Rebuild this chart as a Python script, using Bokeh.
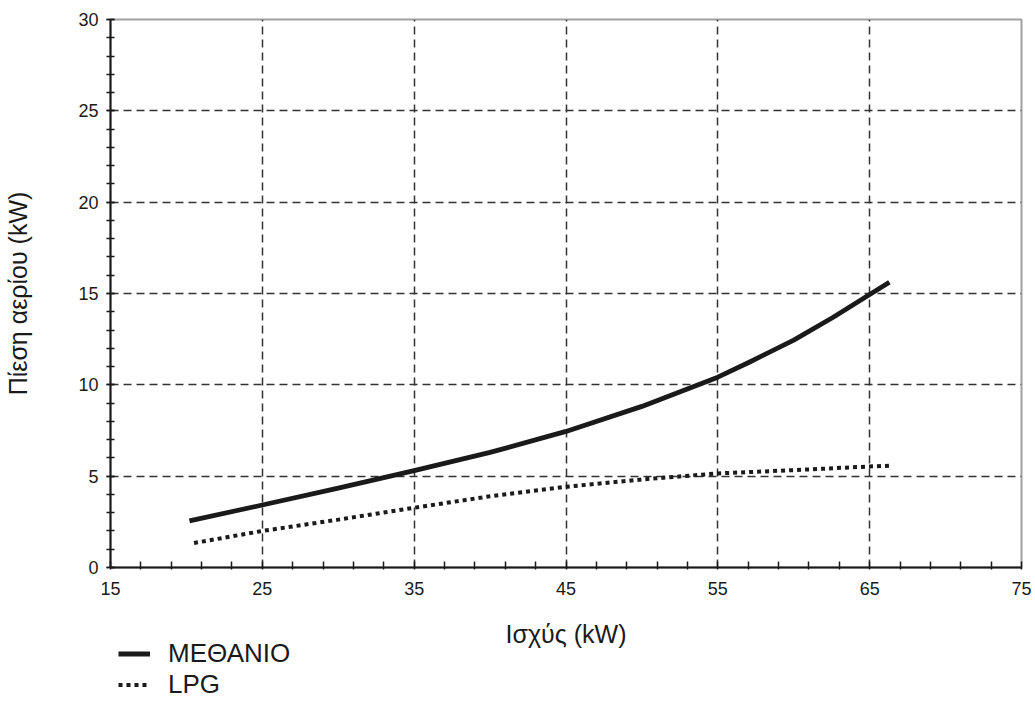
from bokeh.plotting import figure
from bokeh.models import FixedTicker, Range1d, Legend, LegendItem, Label
from bokeh.layouts import column
from bokeh.embed import file_html
from bokeh.resources import INLINE

# Data
x_methane = [20.2, 25, 30, 35, 40, 45, 50, 55, 57.1, 60, 62.6, 65, 66.3]
y_methane = [2.55, 3.42, 4.35, 5.3, 6.3, 7.45, 8.82, 10.42, 11.25, 12.45, 13.7, 14.95, 15.62]
x_lpg = [20.5, 25, 30, 35, 40, 45, 50, 55, 60, 65, 66.3]
y_lpg = [1.34, 2.0, 2.62, 3.27, 3.9, 4.42, 4.82, 5.15, 5.33, 5.53, 5.57]

x_major = [15, 25, 35, 45, 55, 65, 75]
x_minor = [17, 19, 21, 23, 27, 29, 31, 33, 37, 39, 41, 43, 47, 49, 51, 53, 57, 59, 61, 63, 67, 69, 71, 73]
y_major = [0, 5, 10, 15, 20, 25, 30]
y_minor = [i for i in range(0, 31)]
x_grid = [25, 35, 45, 55, 65]
y_grid = [5, 10, 15, 20, 25]

series_names = ["ΜΕΘΑΝΙΟ", "LPG"]
x_label = "Ισχύς (kW)"
y_label = "Πίεση αερίου (kW)"

FONT = "Liberation Sans"
INK = "#1a1a1a"
W = 1033
H_MAIN = 607
H_LEG = 93

p = figure(width=W, height=H_MAIN, output_backend="svg", toolbar_location=None,
           x_range=Range1d(15, 75), y_range=Range1d(0, 30),
           min_border_left=110, min_border_right=12, min_border_top=19, min_border_bottom=40)

p.outline_line_color = "#a0a0a0"
p.outline_line_width = 2

# axes
p.xaxis.ticker = FixedTicker(ticks=x_major, minor_ticks=x_minor)
p.yaxis.ticker = FixedTicker(ticks=y_major, minor_ticks=y_minor)
for ax in (p.xaxis[0], p.yaxis[0]):
    ax.axis_line_color = INK
    ax.axis_line_width = 2
    ax.major_tick_line_color = INK
    ax.minor_tick_line_color = INK
    ax.major_tick_line_width = 1.5
    ax.minor_tick_line_width = 1.5
    ax.major_label_text_font = FONT
    ax.major_label_text_font_size = "18px"
    ax.major_label_text_color = INK
    ax.axis_label_text_font = FONT
    ax.axis_label_text_font_size = "25px"
    ax.axis_label_text_font_style = "normal"
    ax.axis_label_text_color = INK

p.xaxis.major_tick_in = 6
p.xaxis.major_tick_out = 2
p.xaxis.minor_tick_in = 6
p.xaxis.minor_tick_out = 2
p.xaxis.major_label_standoff = 12

p.yaxis.major_tick_in = 4
p.yaxis.major_tick_out = 4
p.yaxis.minor_tick_in = 4
p.yaxis.minor_tick_out = 4
p.yaxis.major_label_standoff = 8
p.yaxis.axis_label = y_label
p.yaxis.axis_label_standoff = 43

# grid
p.xgrid.ticker = FixedTicker(ticks=x_grid)
p.ygrid.ticker = FixedTicker(ticks=y_grid)
for g in (p.xgrid[0], p.ygrid[0]):
    g.grid_line_color = "#333333"
    g.grid_line_width = 1.5
    g.grid_line_dash = "8 5"

METH_STYLE = dict(line_color=INK, line_width=4.8, line_cap="butt", line_join="round")
LPG_STYLE = dict(line_color=INK, line_width=4, line_dash="4 4", line_cap="butt")

p.line(x_methane, y_methane, **METH_STYLE)
p.line(x_lpg, y_lpg, **LPG_STYLE)

# lower strip (frame aligned with the main frame): x-axis title and legend
# its y range is placed far away from the series values so the legend proxies stay hidden
q = figure(width=W, height=H_LEG, output_backend="svg", toolbar_location=None,
           x_range=p.x_range, y_range=Range1d(100 + H_LEG, 100),
           x_axis_type=None, y_axis_type=None,
           min_border_left=110, min_border_right=12, min_border_top=0, min_border_bottom=0)
q.outline_line_color = None
q.grid.visible = False

q.add_layout(Label(x=45, y=126, text=x_label, text_align="center",
                   text_baseline="middle", text_font=FONT, text_font_size="25px",
                   text_color=INK))

d1 = q.line(x_methane, y_methane, **METH_STYLE)
d2 = q.line(x_lpg, y_lpg, **LPG_STYLE)
legend = Legend(items=[LegendItem(label=series_names[0], renderers=[d1]),
                       LegendItem(label=series_names[1], renderers=[d2])],
                location=(8, 0), padding=0, margin=0, spacing=0,
                label_height=25, glyph_height=25, glyph_width=32, label_standoff=18,
                label_text_font=FONT, label_text_font_size="26px", label_text_color=INK,
                border_line_color=None, background_fill_alpha=0)
q.add_layout(legend, "center")

open("out.html", "w").write(file_html(column(p, q), INLINE))
